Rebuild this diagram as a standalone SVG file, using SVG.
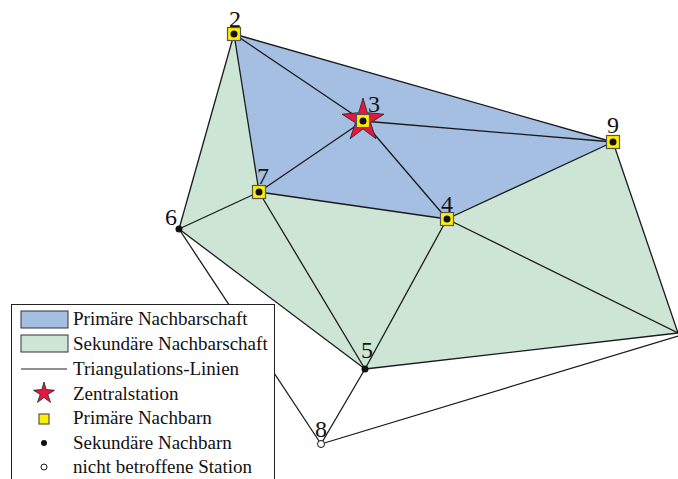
<svg xmlns="http://www.w3.org/2000/svg" width="678" height="479" viewBox="0 0 678 479">
<style>
.edge{stroke:#1a1a1a;stroke-width:1.3;fill:none}
.prim{fill:#ffee00;stroke:#555;stroke-width:1.2}
.dot{fill:#111}
.open{fill:#fff;stroke:#111;stroke-width:1}
.star{fill:#e5173f;stroke:#222;stroke-width:0.8}
.lbl{font-family:"Liberation Serif",serif;font-size:24px;fill:#111;text-anchor:middle}
.leg{font-family:"Liberation Serif",serif;font-size:19px;fill:#111}
</style>
<rect width="678" height="479" fill="#fff"/>
<g id="areas">
<polygon points="234,34 613,142 678,333 365,369 179,229" fill="#cde5d5"/>
<polygon points="234,34 613,142 447,219 259,192" fill="#a4bfe1"/>
</g>
<g id="connectors">
<line class="edge" x1="234" y1="34" x2="613" y2="142"/>
<line class="edge" x1="234" y1="34" x2="363" y2="121"/>
<line class="edge" x1="234" y1="34" x2="259" y2="192"/>
<line class="edge" x1="234" y1="34" x2="179" y2="229"/>
<line class="edge" x1="363" y1="121" x2="613" y2="142"/>
<line class="edge" x1="363" y1="121" x2="259" y2="192"/>
<line class="edge" x1="363" y1="121" x2="447" y2="219"/>
<line class="edge" x1="613" y1="142" x2="447" y2="219"/>
<line class="edge" x1="259" y1="192" x2="447" y2="219"/>
<line class="edge" x1="259" y1="192" x2="179" y2="229"/>
<line class="edge" x1="259" y1="192" x2="365" y2="369"/>
<line class="edge" x1="447" y1="219" x2="365" y2="369"/>
<line class="edge" x1="447" y1="219" x2="678" y2="333"/>
<line class="edge" x1="613" y1="142" x2="678" y2="333"/>
<line class="edge" x1="365" y1="369" x2="678" y2="333"/>
<line class="edge" x1="179" y1="229" x2="365" y2="369"/>
<line class="edge" x1="179" y1="229" x2="321" y2="444"/>
<line class="edge" x1="365" y1="369" x2="321" y2="444"/>
<line class="edge" x1="321" y1="444" x2="678" y2="336"/>
</g>
<g id="n2"><rect class="prim" x="227.5" y="27.5" width="13" height="13"/><circle class="dot" cx="234" cy="34" r="3.5"/><text class="lbl" x="235" y="27">2</text></g>
<g id="n3"><polygon class="star" points="363,98 367.3,112.7 384,114.2 370.6,122.8 375.9,138.8 363,129 350.1,138.8 355.4,122.8 342,114.2 358.7,112.7"/><rect class="prim" x="356.5" y="114.5" width="13" height="13"/><circle class="dot" cx="363" cy="121" r="3.5"/><text class="lbl" x="374" y="112">3</text></g>
<g id="n9"><rect class="prim" x="606.5" y="135.5" width="13" height="13"/><circle class="dot" cx="613" cy="142" r="3.5"/><text class="lbl" x="613" y="133">9</text></g>
<g id="n7"><rect class="prim" x="252.5" y="185.5" width="13" height="13"/><circle class="dot" cx="259" cy="192" r="3.5"/><text class="lbl" x="263" y="184">7</text></g>
<g id="n4"><rect class="prim" x="440.5" y="212.5" width="13" height="13"/><circle class="dot" cx="447" cy="219" r="3.5"/><text class="lbl" x="447" y="212">4</text></g>
<g id="n6"><circle class="dot" cx="179" cy="229" r="3.5"/><text class="lbl" x="171" y="225">6</text></g>
<g id="n5"><circle class="dot" cx="365" cy="369" r="3.5"/><text class="lbl" x="367" y="358">5</text></g>
<g id="n8"><circle class="open" cx="321" cy="444" r="3.5"/><text class="lbl" x="321" y="437">8</text></g>
<g id="legend">
<rect x="11.5" y="304.5" width="263" height="180" fill="#fff" stroke="#222" stroke-width="1"/>
<rect x="21" y="311" width="47" height="17" fill="#a4bfe1" stroke="#333" stroke-width="1"/>
<text class="leg" x="73" y="325">Primäre Nachbarschaft</text>
<rect x="21" y="335" width="47" height="17" fill="#cde5d5" stroke="#333" stroke-width="1"/>
<text class="leg" x="73" y="350">Sekundäre Nachbarschaft</text>
<line x1="21" y1="369" x2="67" y2="369" stroke="#222" stroke-width="1.2"/>
<text class="leg" x="73" y="375">Triangulations-Linien</text>
<polygon class="star" points="44,382 46.1,389.5 54.5,390.3 47.8,394.4 50.5,402.4 44,397.5 37.5,402.4 40.2,394.4 33.5,390.3 41.9,389.5"/>
<text class="leg" x="73" y="400">Zentralstation</text>
<rect class="prim" x="39" y="414" width="10" height="10"/>
<text class="leg" x="73" y="424">Primäre Nachbarn</text>
<circle class="dot" cx="44" cy="443" r="3"/>
<text class="leg" x="73" y="449">Sekundäre Nachbarn</text>
<circle class="open" cx="44" cy="467" r="3"/>
<text class="leg" x="73" y="473">nicht betroffene Station</text>
</g>
</svg>
